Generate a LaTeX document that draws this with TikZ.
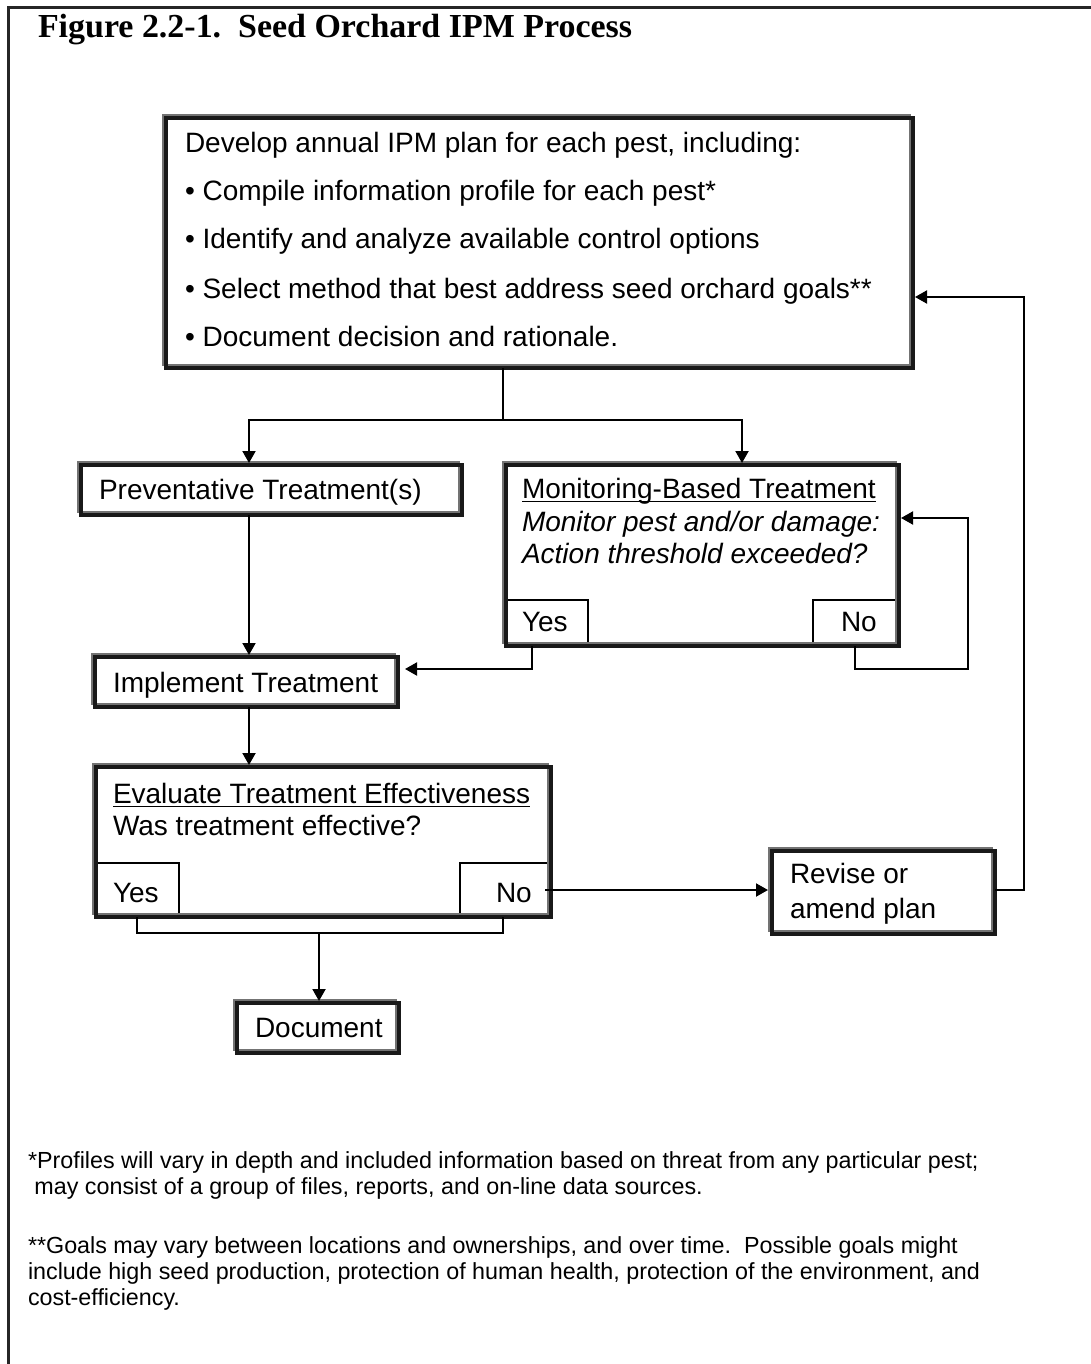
\documentclass[tikz,border=0pt]{standalone}
\usepackage{fontspec}
\usepackage{graphicx}
\setmainfont{Liberation Sans}
\newfontfamily\titlefont{Liberation Serif}
\usetikzlibrary{arrows.meta,calc}
\newcommand\ulx[1]{\setbox0\hbox{#1}\rlap{\rule[-2pt]{\wd0}{0.65pt}}\box0}
\newcommand\boxnode[5]{%
  \node[boxshape, minimum width={(#4-#2)*0.5pt}, minimum height={(#5-#3)*0.5pt}] (#1) at ({(#2+#4)/2},{(#3+#5)/2}) {};}
\newcommand\subnode[5]{%
  \node[subshape, minimum width={(#4-#2)*0.5pt}, minimum height={(#5-#3)*0.5pt}] (#1) at ({(#2+#4)/2},{(#3+#5)/2}) {};}
\newcommand\frameit[1]{%
  \draw[framegray] ([shift={(-3,-3)}]#1.north west) rectangle ([shift={(-3,-3)}]#1.south east);
  \draw[frameblack] (#1.north west) rectangle (#1.south east);}
\tikzset{
  every node/.style={inner sep=0pt, outer sep=0pt},
  txt/.style={anchor=base west, font=\fontsize{14}{16}\selectfont},
  note/.style={anchor=base west, font=\fontsize{11.65}{13}\selectfont},
  conn/.style={line width=1pt, shorten >=1pt, -{Triangle[length=6pt,width=6.5pt]}},
  plain/.style={line width=1pt},
  boxshape/.style={rectangle, fill=white},
  subshape/.style={rectangle, draw, line width=1pt},
  framegray/.style={draw=black!55, line width=1.25pt},
  frameblack/.style={draw=black!90, line width=2pt},
}
\begin{document}
\begin{tikzpicture}[x=0.5pt,y=-0.5pt]
\useasboundingbox (0,0) rectangle (1091,1364);
\begin{scope}
  \clip (0,0) rectangle (1091,1364);
  \draw[line width=1.5pt, black!85] (8.5,7.5) rectangle (1092,1400);
\end{scope}

% title
\node[anchor=base west] (title) at (38,38)
  {\resizebox{297pt}{\height}{\titlefont\bfseries\fontsize{16.8}{18}\selectfont Figure 2.2-1.\ \ Seed Orchard IPM Process}};

% boxes
\boxnode{plan}{166}{118}{913}{368}
\boxnode{prev}{81}{465}{462}{515}
\boxnode{impl}{95}{657}{398}{707}
\boxnode{mon}{506}{465}{899}{646}
\boxnode{eval}{96}{767}{551}{917}
\boxnode{rev}{772}{851}{995}{934}
\boxnode{doc}{237}{1003}{399}{1053}

% sub boxes
\subnode{monyes}{506}{600}{588}{646}
\subnode{monno}{813}{600}{899}{646}
\subnode{evalyes}{96}{863}{179}{917}
\subnode{evalno}{460}{863}{551}{917}

\frameit{plan}
\frameit{prev}
\frameit{impl}
\frameit{mon}
\frameit{eval}
\frameit{rev}
\frameit{doc}

% texts
\node[txt] (p0) at (185,153) {Develop annual IPM plan for each pest, including:};
\node[txt] (p1) at (185,201) {• Compile information profile for each pest*};
\node[txt] (p2) at (185,249) {• Identify and analyze available control options};
\node[txt] (p3) at (185,298) {• Select method that best address seed orchard goals**};
\node[txt] (p4) at (185,346) {• Document decision and rationale.};

\node[txt] (prevt) at (99,499) {Preventative Treatment(s)};
\node[txt] (implt) at (113,692) {Implement Treatment};

\node[txt] (mont1) at (522,498) {\ulx{Monitoring-Based Treatment}};
\node[txt] (mont2) at (522,531) {\itshape Monitor pest and/or damage:};
\node[txt] (mont3) at (522,563) {\itshape Action threshold exceeded?};
\node[txt] (monyest) at (522,631) {Yes};
\node[txt] (monnot) at (841,631) {No};

\node[txt] (evalt1) at (113,803) {\ulx{Evaluate Treatment Effectiveness}};
\node[txt] (evalt2) at (113,835) {Was treatment effective?};
\node[txt] (evalyest) at (113,902) {Yes};
\node[txt] (evalnot) at (496,902) {No};

\node[txt] (revt1) at (790,883) {Revise or};
\node[txt] (revt2) at (790,918) {amend plan};

\node[txt] (doct) at (255,1037) {Document};

% footnotes
\node[note] (n1) at (28,1168) {*Profiles will vary in depth and included information based on threat from any particular pest;};
\node[note] (n2) at (28,1194) {\ may consist of a group of files, reports, and on-line data sources.};
\node[note] (n3) at (28,1253) {**Goals may vary between locations and ownerships, and over time.\ \ Possible goals might};
\node[note] (n4) at (28,1279) {include high seed production, protection of human health, protection of the environment, and};
\node[note] (n5) at (28,1305) {cost-efficiency.};

% connectors
\coordinate (colA) at (249,0);
\coordinate (colB) at (742,0);
\coordinate (split) at (503,420);
\draw[plain] (plan.south -| split) -- (split);
\draw[conn] (split) -| (prev.north -| colA);
\draw[conn] (split) -| (mon.north -| colB);
\draw[conn] (prev.south -| colA) -- (impl.north -| colA);
\draw[conn] (impl.south -| colA) -- (eval.north -| colA);

\coordinate (yesM) at (532,669);
\draw[conn, shorten >=3.5pt] (monyes.south -| yesM) |- (impl.east |- yesM);

\coordinate (noM) at (855,669);
\coordinate (loopR) at (968,518);
\draw[conn] (monno.south -| noM) -- (noM) -- (noM -| loopR) -- (loopR) -- (mon.east |- loopR);

\coordinate (noE) at (545,890);
\draw[conn, shorten >=2pt] (noE) -- (rev.west |- noE);

\coordinate (loopP) at (1024,297);
\draw[conn] (rev.east |- noE) -| (loopP) -- (plan.east |- loopP);

\coordinate (joinL) at (137,933);
\coordinate (joinR) at (503,933);
\coordinate (joinM) at (319,933);
\draw[plain] (evalyes.south -| joinL) -- (joinL) -- (joinR) -- (evalno.south -| joinR);
\draw[conn] (joinM) -- (doc.north -| joinM);
\end{tikzpicture}
\end{document}
